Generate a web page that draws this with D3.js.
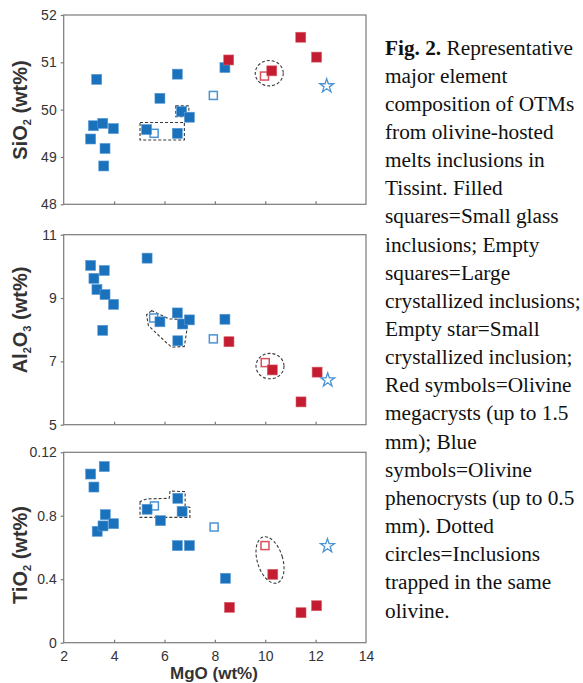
<!DOCTYPE html>
<html>
<head>
<meta charset="utf-8">
<script src="https://cdn.jsdelivr.net/npm/d3@7"></script>
<style>
  html, body { margin: 0; padding: 0; background: #fff; }
  svg { display: block; }
</style>
</head>
<body>
<svg id="chart" width="583" height="683"></svg>
<script>
// ---------- DATA ----------
const xTicks = [2, 4, 6, 8, 10, 12, 14];

// Panel 1: SiO2
const sio2BlueFilled = [[3.07,49.38],[3.18,49.66],[3.31,50.64],[3.55,49.71],[3.59,48.81],[3.64,49.18],[3.97,49.60],[5.29,49.58],[5.82,50.24],[6.51,49.50],[6.51,50.75],[6.68,49.96],[6.99,49.84],[8.40,50.89]];
const sio2BlueEmpty = [[5.59,49.50],[7.94,50.30]];
const sio2BlueStar = [[12.44,50.50]];
const sio2RedFilled = [[8.55,51.05],[10.26,50.82],[11.41,51.53],[12.04,51.11]];
const sio2RedEmpty = [[9.97,50.71]];
const sio2Ticks = [48, 49, 50, 51, 52];

// Panel 2: Al2O3
const al2o3BlueFilled = [[3.07,10.03],[3.20,9.62],[3.32,9.27],[3.55,7.98],[3.61,9.87],[3.64,9.11],[3.98,8.80],[5.31,10.26],[5.82,8.25],[6.51,8.53],[6.53,7.65],[6.72,8.18],[6.99,8.31],[8.40,8.33]];
const al2o3BlueEmpty = [[5.57,8.37],[7.94,7.71]];
const al2o3BlueStar = [[12.48,6.41]];
const al2o3RedFilled = [[8.56,7.62],[10.28,6.73],[11.42,5.72],[12.06,6.66]];
const al2o3RedEmpty = [[10.0,6.96]];
const al2o3Ticks = [5, 7, 9, 11];

// Panel 3: TiO2
const tio2BlueFilled = [[3.07,1.063],[3.20,0.981],[3.33,0.702],[3.56,0.736],[3.61,1.110],[3.65,0.807],[3.98,0.750],[5.31,0.841],[5.84,0.769],[6.51,0.612],[6.53,0.910],[6.70,0.828],[6.99,0.612],[8.42,0.406]];
const tio2BlueEmpty = [[5.60,0.862],[7.97,0.729]];
const tio2BlueStar = [[12.47,0.610]];
const tio2RedFilled = [[8.58,0.223],[10.30,0.431],[11.42,0.189],[12.04,0.233]];
const tio2RedEmpty = [[9.99,0.612]];
const tio2Ticks = [0, 0.4, 0.8, 1.2];
const tio2TickLabels = ["0", "0.4", "0.8", "0.12"];

// Dashed outlines (groups of inclusions in the same olivine), data coordinates
const sio2Rects = [[5.03,49.73,6.79,49.36],[6.45,50.08,6.97,49.85]];
const sio2Ellipse = [10.16, 50.77];
const al2o3Group = [[5.49,8.60],[5.29,8.47],[5.36,8.13],[6.09,7.58],[6.29,7.45],[6.79,7.47],[6.95,8.32],[6.18,8.34],[5.69,8.53]];
const al2o3Ellipse = [10.19, 6.85];
const tio2Group = [[5.03,0.889],[5.03,0.790],[7.01,0.790],[7.01,0.853],[6.82,0.862],[6.82,0.952],[6.22,0.956],[6.19,0.910],[5.29,0.906]];
const tio2Ellipse = [10.19, 0.521];

const captionLines = [
  ["Fig. 2.", " Representative"],
  ["", "major element"],
  ["", "composition of OTMs"],
  ["", "from olivine-hosted"],
  ["", "melts inclusions in"],
  ["", "Tissint. Filled"],
  ["", "squares=Small glass"],
  ["", "inclusions; Empty"],
  ["", "squares=Large"],
  ["", "crystallized inclusions;"],
  ["", "Empty star=Small"],
  ["", "crystallized inclusion;"],
  ["", "Red symbols=Olivine"],
  ["", "megacrysts (up to 1.5"],
  ["", "mm); Blue"],
  ["", "symbols=Olivine"],
  ["", "phenocrysts (up to 0.5"],
  ["", "mm). Dotted"],
  ["", "circles=Inclusions"],
  ["", "trapped in the same"],
  ["", "olivine."]
];

// ---------- STYLE ----------
const BLUE = "#1b72bc", BLUE_LIGHT = "#4b93d1";
const RED = "#c41c30", RED_LIGHT = "#d9505f";
const FRAME = "#7a7a7a";
const TEXT = "#333";
const sansFont = "'Liberation Sans', Arial, sans-serif";

const svg = d3.select("#chart");
const left = 63.7, right = 366;
const x = d3.scaleLinear().domain([2, 14]).range([left, right]);

const panels = [
  { top: 15, bottom: 204.3, domain: [48, 52], ticks: sio2Ticks, labels: sio2Ticks.map(String),
    title: ["SiO", "2", " (wt%)"], titleY: 110,
    blueFilled: sio2BlueFilled, blueEmpty: sio2BlueEmpty, star: sio2BlueStar, redFilled: sio2RedFilled, redEmpty: sio2RedEmpty,
    rects: sio2Rects, group: null, ellipse: sio2Ellipse, ellR: [14, 12.7], ellRot: 0 },
  { top: 234.7, bottom: 424.7, domain: [5, 11], ticks: al2o3Ticks, labels: al2o3Ticks.map(String),
    title: ["Al", "2", "O", "3", " (wt%)"], titleY: 320,
    blueFilled: al2o3BlueFilled, blueEmpty: al2o3BlueEmpty, star: al2o3BlueStar, redFilled: al2o3RedFilled, redEmpty: al2o3RedEmpty,
    rects: [], group: al2o3Group, ellipse: al2o3Ellipse, ellR: [14, 12.7], ellRot: 0 },
  { top: 452.3, bottom: 642.7, domain: [0, 1.2], ticks: tio2Ticks, labels: tio2TickLabels,
    title: ["TiO", "2", " (wt%)"], titleY: 555,
    blueFilled: tio2BlueFilled, blueEmpty: tio2BlueEmpty, star: tio2BlueStar, redFilled: tio2RedFilled, redEmpty: tio2RedEmpty,
    rects: [], group: tio2Group, ellipse: tio2Ellipse, ellR: [12.7, 24], ellRot: -17 }
];

panels.forEach((p, i) => {
  const y = d3.scaleLinear().domain(p.domain).range([p.bottom, p.top]);
  const g = svg.append("g");

  // frame
  g.append("rect").attr("x", left).attr("y", p.top)
    .attr("width", right - left).attr("height", p.bottom - p.top)
    .attr("fill", "none").attr("stroke", FRAME).attr("stroke-width", 1.2);

  // y axis (outward ticks)
  const yAxis = d3.axisLeft(y).tickValues(p.ticks).tickSize(3).tickPadding(4)
    .tickFormat((d, k) => p.labels[k]);
  const ya = g.append("g").attr("transform", `translate(${left},0)`).call(yAxis);
  ya.select(".domain").remove();
  ya.selectAll("line").attr("stroke", FRAME).attr("stroke-width", 1.2);
  ya.selectAll("text").attr("fill", TEXT).style("font-family", sansFont).style("font-size", "14px");

  // x axis (inward ticks)
  const xAxis = d3.axisBottom(x).tickValues(xTicks).tickSize(-3).tickPadding(7)
    .tickFormat(i === 2 ? d3.format("d") : () => "");
  const xa = g.append("g").attr("transform", `translate(0,${p.bottom})`).call(xAxis);
  xa.select(".domain").remove();
  xa.selectAll("line").attr("stroke", FRAME).attr("stroke-width", 1.2)
    .filter(d => d === 2 || d === 14).remove();
  xa.selectAll("text").attr("fill", TEXT).style("font-family", sansFont).style("font-size", "14px")
    .attr("y", 8);

  // y title
  const tt = g.append("text")
    .attr("transform", `translate(27,${p.titleY}) rotate(-90)`)
    .attr("text-anchor", "middle")
    .attr("fill", TEXT).style("font-family", sansFont).style("font-weight", "bold").style("font-size", "20px");
  p.title.forEach((s, k) => {
    const isSub = (p.title.length === 3 && k === 1) || (p.title.length === 5 && (k === 1 || k === 3));
    const t = tt.append("tspan").text(s);
    if (isSub) t.attr("dy", 4).style("font-size", "11px");
    else if (k > 0) t.attr("dy", -4);
  });

  // dashed outlines
  const dash = { stroke: "#3a3a3a", "stroke-width": 1.1, "stroke-dasharray": "3,2", fill: "none" };
  p.rects.forEach(r => {
    const rr = g.append("rect").attr("x", x(r[0])).attr("y", y(r[1]))
      .attr("width", x(r[2]) - x(r[0])).attr("height", y(r[3]) - y(r[1]));
    Object.entries(dash).forEach(([k, v]) => rr.attr(k, v));
  });
  if (p.group) {
    const pg = g.append("path").attr("d", d3.line().x(d => x(d[0])).y(d => y(d[1])).curve(d3.curveLinearClosed)(p.group));
    Object.entries(dash).forEach(([k, v]) => pg.attr(k, v));
  }
  const el = g.append("ellipse")
    .attr("transform", `translate(${x(p.ellipse[0])},${y(p.ellipse[1])}) rotate(${p.ellRot})`)
    .attr("rx", p.ellR[0]).attr("ry", p.ellR[1]);
  Object.entries(dash).forEach(([k, v]) => el.attr(k, v));

  // markers
  const S = 10, E = 8;
  g.selectAll(null).data(p.blueEmpty).join("rect")
    .attr("x", d => x(d[0]) - E / 2).attr("y", d => y(d[1]) - E / 2).attr("width", E).attr("height", E)
    .attr("fill", "#fff").attr("stroke", BLUE_LIGHT).attr("stroke-width", 1.5);
  g.selectAll(null).data(p.redEmpty).join("rect")
    .attr("x", d => x(d[0]) - E / 2).attr("y", d => y(d[1]) - E / 2).attr("width", E).attr("height", E)
    .attr("fill", "#fff").attr("stroke", RED_LIGHT).attr("stroke-width", 1.5);
  g.selectAll(null).data(p.blueFilled).join("rect")
    .attr("x", d => x(d[0]) - S / 2).attr("y", d => y(d[1]) - S / 2).attr("width", S).attr("height", S)
    .attr("fill", BLUE).attr("stroke", "#5a9ad4").attr("stroke-width", 0.6);
  g.selectAll(null).data(p.redFilled).join("rect")
    .attr("x", d => x(d[0]) - S / 2).attr("y", d => y(d[1]) - S / 2).attr("width", S).attr("height", S)
    .attr("fill", RED).attr("stroke", "#d9606c").attr("stroke-width", 0.6);
  g.selectAll(null).data(p.star).join("path")
    .attr("transform", d => `translate(${x(d[0])},${y(d[1])})`)
    .attr("d", d3.symbol(d3.symbolStar, 60)())
    .attr("fill", "#fff").attr("stroke", BLUE_LIGHT).attr("stroke-width", 1.3);
});

// x title
svg.append("text").attr("x", 214).attr("y", 679).attr("text-anchor", "middle")
  .attr("fill", TEXT).style("font-family", sansFont).style("font-weight", "bold").style("font-size", "17px")
  .text("MgO (wt%)");

// caption
const cap = svg.append("text")
  .style("font-family", "'Liberation Serif', 'Times New Roman', serif")
  .style("font-size", "21.3px").attr("fill", "#111");
captionLines.forEach((ln, k) => {
  const t = cap.append("tspan").attr("x", 385).attr("y", 54.5 + k * 28.15);
  if (ln[0]) t.append("tspan").style("font-weight", "bold").text(ln[0]);
  t.append("tspan").text(ln[1]);
});
</script>
</body>
</html>
